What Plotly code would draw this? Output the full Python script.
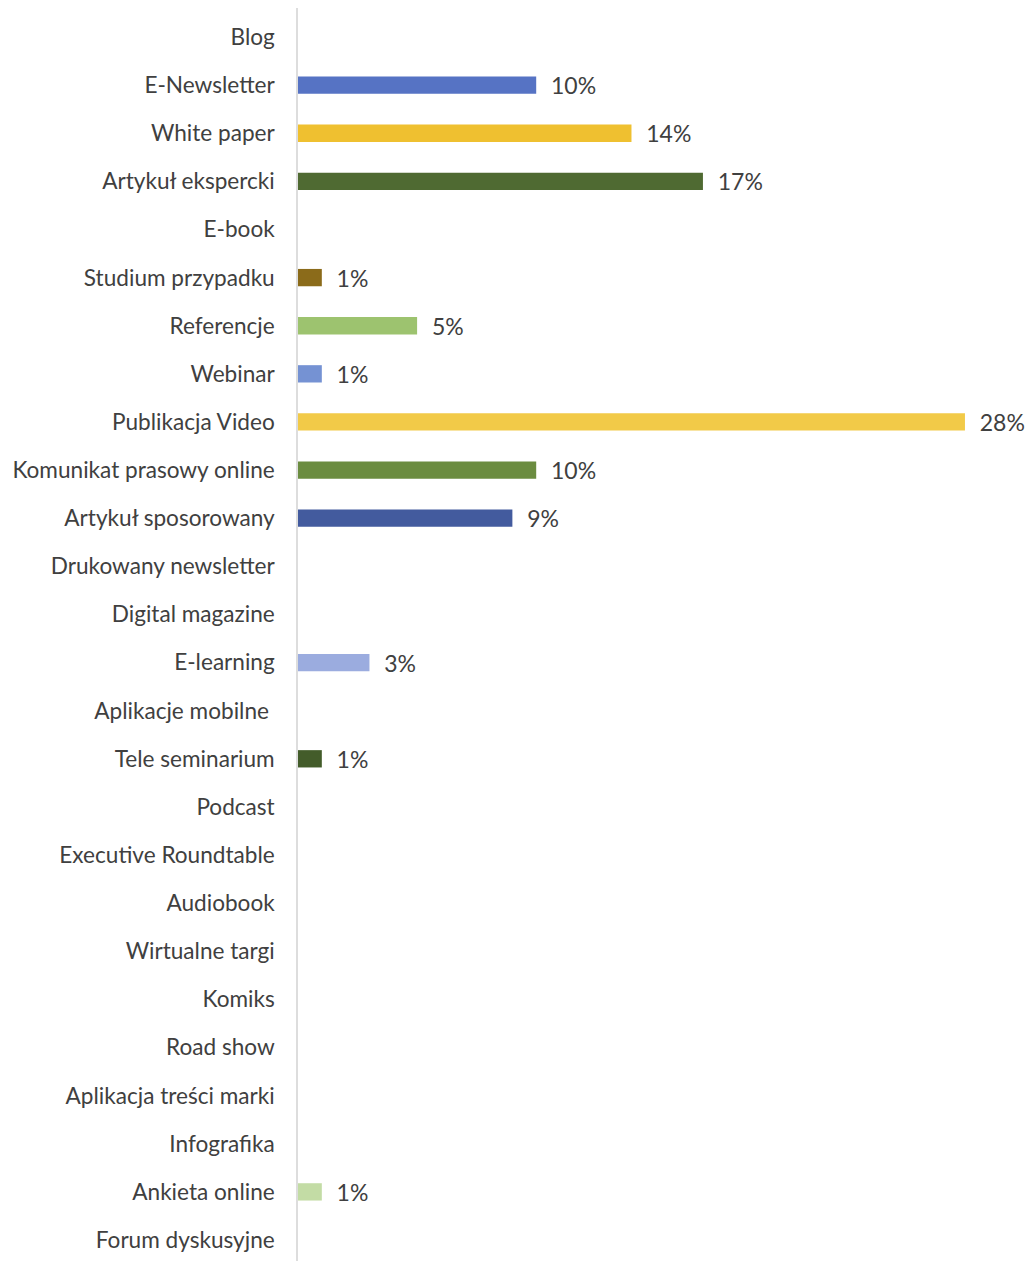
import plotly.graph_objects as go

categories = ["Blog", "E-Newsletter", "White paper", "Artykuł ekspercki", "E-book",
              "Studium przypadku", "Referencje", "Webinar", "Publikacja Video",
              "Komunikat prasowy online", "Artykuł sposorowany", "Drukowany newsletter",
              "Digital magazine", "E-learning", "Aplikacje mobilne\u00a0", "Tele seminarium",
              "Podcast", "Executive Roundtable", "Audiobook", "Wirtualne targi", "Komiks",
              "Road show", "Aplikacja treści marki", "Infografika", "Ankieta online",
              "Forum dyskusyjne"]
values = [None, 10, 14, 17, None, 1, 5, 1, 28, 10, 9, None, None, 3, None, 1,
          None, None, None, None, None, None, None, None, 1, None]
colors = ["#5673C4", "#5673C4", "#EFC030", "#4F6A32", "#5673C4", "#8B6B1A", "#9DC36F",
          "#7592D3", "#F2CA48", "#6B8C40", "#435B9E", "#5673C4", "#5673C4", "#9BACDF",
          "#5673C4", "#435C2A", "#5673C4", "#5673C4", "#5673C4", "#5673C4", "#5673C4",
          "#5673C4", "#5673C4", "#5673C4", "#C3DCA5", "#5673C4"]

labels = ["" if v is None else f"\u00a0\u00a0{v}%" for v in values]
xs = [0 if v is None else v for v in values]

fig = go.Figure(go.Bar(
    x=xs, y=categories, orientation="h",
    marker=dict(color=colors, line=dict(width=0)),
    text=labels, textposition="outside", cliponaxis=False, constraintext="none",
    textfont=dict(family="Lato", size=23, color="#404040"),
    width=0.36,
))

W, H = 1025, 1253
L, R = 290, 10
px_x = 23.82
px_y = 48.12
fig.update_layout(
    width=W, height=H,
    margin=dict(l=L, r=R, t=0, b=0),
    plot_bgcolor="white", paper_bgcolor="white",
    showlegend=False,
    xaxis=dict(range=[0, (W - L - R) / px_x], visible=False),
    yaxis=dict(
        type="category", categoryorder="array", categoryarray=categories,
        range=[25 + (H - 1232) / px_y, -29 / px_y],
        showline=True, linecolor="#DDDDDD", linewidth=1.5,
        ticks="", ticklabelstandoff=17,
        tickfont=dict(family="Lato", size=22.6, color="#404040"),
        showgrid=False, zeroline=False, automargin=False,
    ),
)

fig.write_html("out.html")
